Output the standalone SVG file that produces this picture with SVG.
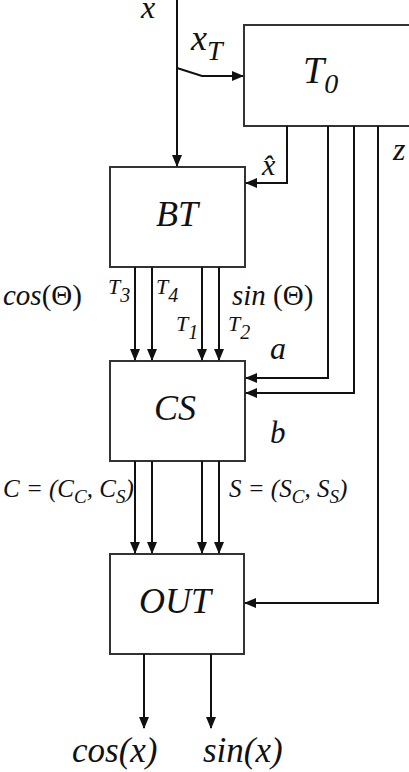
<svg xmlns="http://www.w3.org/2000/svg" width="409" height="772" viewBox="0 0 409 772">
<style>
.box{fill:#fff;stroke:#333;stroke-width:2}
.ln{fill:none;stroke:#111;stroke-width:2}
text{font-family:"Liberation Serif","Times New Roman",serif;font-style:italic;fill:#111}
.up{font-style:normal}
.big{font-size:36px}
.sm{font-size:29px}
.xs{font-size:22px}
</style>
<defs>
<marker id="ah" markerWidth="12" markerHeight="10" refX="11" refY="5" orient="auto" markerUnits="userSpaceOnUse">
<path d="M0,0 L12,5 L0,10 Z" fill="#111"/>
</marker>
</defs>
<g id="T0"><rect class="box" x="244" y="25" width="175" height="101"/><text font-size="38" x="303" y="83">T<tspan font-size="28" dy="10">0</tspan></text></g>
<g id="BT"><rect class="box" x="110" y="167" width="135" height="100"/><text class="big" x="177" y="226" text-anchor="middle">BT</text></g>
<g id="CS"><rect class="box" x="110" y="361" width="135" height="100"/><text class="big" x="175" y="420" text-anchor="middle">CS</text></g>
<g id="OUT"><rect class="box" x="110" y="554" width="134" height="100"/><text class="big" x="175" y="613" text-anchor="middle">OUT</text></g>
<g id="connectors">
<path class="ln" d="M177,0 V166" marker-end="url(#ah)"/>
<path class="ln" d="M177,68 L202,76 H243" marker-end="url(#ah)"/>
<path class="ln" d="M287,126 V183 H246" marker-end="url(#ah)"/>
<path class="ln" d="M328,126 V378 H246" marker-end="url(#ah)"/>
<path class="ln" d="M354,126 V393 H246" marker-end="url(#ah)"/>
<path class="ln" d="M378,126 V603 H245" marker-end="url(#ah)"/>
<path class="ln" d="M135,267 V360" marker-end="url(#ah)"/>
<path class="ln" d="M152,267 V360" marker-end="url(#ah)"/>
<path class="ln" d="M202,267 V360" marker-end="url(#ah)"/>
<path class="ln" d="M219,267 V360" marker-end="url(#ah)"/>
<path class="ln" d="M135,461 V553" marker-end="url(#ah)"/>
<path class="ln" d="M152,461 V553" marker-end="url(#ah)"/>
<path class="ln" d="M202,461 V553" marker-end="url(#ah)"/>
<path class="ln" d="M219,461 V553" marker-end="url(#ah)"/>
<path class="ln" d="M144,654 V728" marker-end="url(#ah)"/>
<path class="ln" d="M211,654 V728" marker-end="url(#ah)"/>
</g>
<g id="labels">
<text font-size="32" x="141" y="18">x</text>
<text font-size="36" x="191" y="50">x<tspan font-size="28" dy="10">T</tspan></text>
<text font-size="32" x="393" y="160">z</text>
<text font-size="30" x="262" y="175">x̂</text>
<text class="sm" x="3" y="305">cos<tspan class="up">(Θ)</tspan></text>
<text class="xs" x="108" y="294">T<tspan font-size="20" dy="8">3</tspan></text>
<text class="xs" x="156" y="294">T<tspan font-size="20" dy="8">4</tspan></text>
<text class="xs" x="176" y="331">T<tspan font-size="20" dy="8">1</tspan></text>
<text class="xs" x="228" y="331">T<tspan font-size="20" dy="8">2</tspan></text>
<text class="sm" x="232" y="305">sin <tspan class="up">(Θ)</tspan></text>
<text font-size="32" x="270" y="359">a</text>
<text font-size="31" x="270" y="443">b</text>
<text font-size="25" x="3" y="497">C = (C<tspan font-size="19" dy="6">C</tspan><tspan dy="-6">, C</tspan><tspan font-size="19" dy="6">S</tspan><tspan dy="-6">)</tspan></text>
<text font-size="25" x="229" y="497">S = (S<tspan font-size="19" dy="6">C</tspan><tspan dy="-6">, S</tspan><tspan font-size="19" dy="6">S</tspan><tspan dy="-6">)</tspan></text>
<text font-size="35" x="72" y="762">cos(x)</text>
<text font-size="35" x="203" y="762">sin(x)</text>
</g>
</svg>
